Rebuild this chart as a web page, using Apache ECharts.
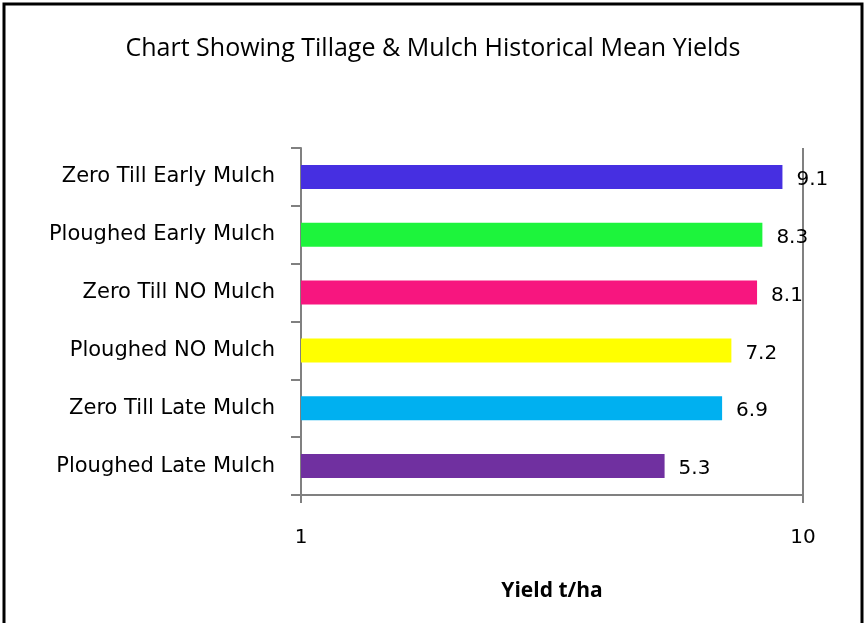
<!DOCTYPE html>
<html><head><meta charset="utf-8">
<script src="https://cdn.jsdelivr.net/npm/echarts@6/dist/echarts.min.js"></script>
<style>html,body{margin:0;padding:0;background:#fff}#c{width:866px;height:623px}</style>
</head><body><div id="c"></div>
<script>
const categories = ['Zero Till Early Mulch','Ploughed Early Mulch','Zero Till NO Mulch','Ploughed NO Mulch','Zero Till Late Mulch','Ploughed Late Mulch'];
const yields = [9.1, 8.3, 8.1, 7.2, 6.9, 5.3];
const barColors = ['#462FE1','#1DF43C','#F7167F','#FFFF00','#00B0F0','#7030A0'];
const xTicks = [1, 10];

const chart = echarts.init(document.getElementById('c'));
chart.setOption({
  animation:false,
  backgroundColor:'#fff',
  title:{text:'Chart Showing Tillage & Mulch Historical Mean Yields', left:'center', top:31,
    textStyle:{fontFamily:'Open Sans',fontSize:25,fontWeight:500,color:'#000'}},
  graphic:[{type:'rect',shape:{x:4,y:4,width:858,height:660},style:{fill:'none',stroke:'#000',lineWidth:3}}],
  grid:{left:301,right:63,top:148,bottom:128},
  xAxis:{type:'log',logBase:10,min:xTicks[0],max:xTicks[1],
    name:'Yield t/ha',nameLocation:'middle',nameGap:86,
    nameTextStyle:{fontFamily:'Open Sans',fontWeight:'bold',fontSize:21,color:'#000'},
    axisLine:{show:true,lineStyle:{color:'#808080',width:2}},
    axisTick:{show:true,length:8,lineStyle:{color:'#808080',width:2}},
    axisLabel:{fontFamily:'DejaVu Sans',fontSize:20,color:'#000',margin:33},
    splitLine:{show:true,lineStyle:{color:'#808080',width:2}}},
  yAxis:{type:'category',data:categories,inverse:true,
    axisLine:{show:true,lineStyle:{color:'#808080',width:2}},
    axisTick:{show:true,length:10,lineStyle:{color:'#808080',width:2}},
    axisLabel:{fontFamily:'DejaVu Sans',fontSize:21,color:'#000',margin:26,padding:[6,0,0,0]},
    splitLine:{show:false}},
  series:[{type:'bar',data:yields.map((v,i)=>({value:v,itemStyle:{color:barColors[i]}})),
    barWidth:24,
    label:{show:true,position:'right',distance:14,offset:[0,3],fontFamily:'DejaVu Sans',fontSize:20,color:'#000'}}]
});
</script></body></html>
